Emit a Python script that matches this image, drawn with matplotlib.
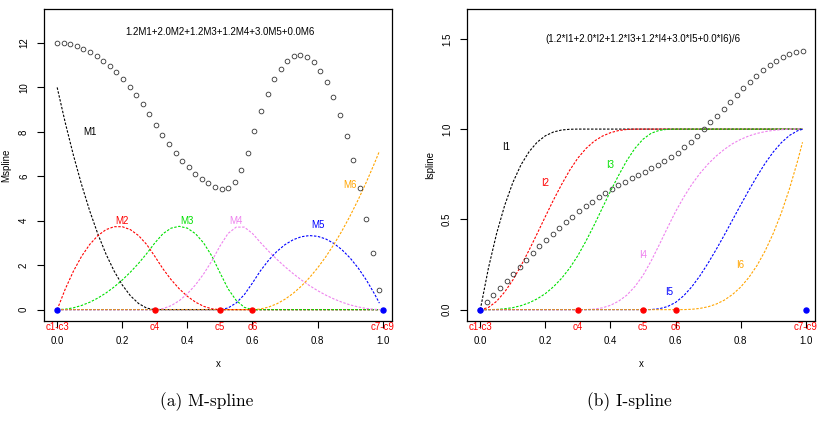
import numpy as np
import matplotlib
matplotlib.use('Agg')
import matplotlib.pyplot as plt
import matplotlib.transforms as mtransforms

plt.rcParams['font.family'] = ['Liberation Sans', 'DejaVu Sans']

# grid for the basis curves
xs = [0.0, 0.025, 0.05, 0.075, 0.1, 0.125, 0.15, 0.175, 0.2, 0.225, 0.25, 0.275,
      0.3, 0.325, 0.35, 0.375, 0.4, 0.425, 0.45, 0.475, 0.5, 0.525, 0.55, 0.575,
      0.6, 0.625, 0.65, 0.675, 0.7, 0.725, 0.75, 0.775, 0.8, 0.825, 0.85, 0.875,
      0.9, 0.925, 0.95, 0.975, 0.99]

# M-spline basis
m1 = [10.0, 8.403, 6.944, 5.625, 4.444, 3.403, 2.5, 1.736, 1.111, 0.625, 0.278, 0.069,
      0, 0, 0, 0, 0, 0, 0, 0, 0, 0, 0, 0, 0, 0, 0, 0, 0, 0, 0, 0, 0, 0, 0, 0, 0, 0, 0, 0, 0]
m2 = [0, 0.933, 1.733, 2.4, 2.933, 3.333, 3.6, 3.733, 3.733, 3.6, 3.333, 2.933,
      2.4, 1.838, 1.35, 0.938, 0.6, 0.338, 0.15, 0.038, 0, 0, 0, 0,
      0, 0, 0, 0, 0, 0, 0, 0, 0, 0, 0, 0, 0, 0, 0, 0, 0]
m3 = [0, 0.021, 0.083, 0.188, 0.333, 0.521, 0.75, 1.021, 1.333, 1.688, 2.083, 2.521,
      3.0, 3.417, 3.667, 3.75, 3.667, 3.417, 3.0, 2.417, 1.667, 0.938, 0.417, 0.104,
      0, 0, 0, 0, 0, 0, 0, 0, 0, 0, 0, 0, 0, 0, 0, 0, 0]
m4 = [0, 0, 0, 0, 0, 0, 0, 0, 0, 0, 0, 0,
      0, 0.045, 0.179, 0.402, 0.714, 1.116, 1.607, 2.188, 2.857, 3.429, 3.714, 3.714,
      3.429, 3.013, 2.625, 2.263, 1.929, 1.621, 1.339, 1.085, 0.857, 0.656, 0.482, 0.335,
      0.214, 0.121, 0.054, 0.013, 0.002]
m5 = [0, 0, 0, 0, 0, 0, 0, 0, 0, 0, 0, 0,
      0, 0, 0, 0, 0, 0, 0, 0, 0, 0.075, 0.3, 0.675,
      1.2, 1.758, 2.231, 2.620, 2.925, 3.145, 3.281, 3.333, 3.3, 3.183, 2.981, 2.695,
      2.325, 1.870, 1.331, 0.708, 0.293]
m6 = [0, 0, 0, 0, 0, 0, 0, 0, 0, 0, 0, 0,
      0, 0, 0, 0, 0, 0, 0, 0, 0, 0, 0, 0,
      0, 0.029, 0.117, 0.264, 0.469, 0.732, 1.055, 1.436, 1.875, 2.373, 2.930, 3.545,
      4.219, 4.951, 5.742, 6.592, 7.130]

# I-spline basis
i1 = [0, 0.230, 0.421, 0.578, 0.704, 0.802, 0.875, 0.928, 0.963, 0.984, 0.995, 0.999,
      1, 1, 1, 1, 1, 1, 1, 1, 1, 1, 1, 1, 1, 1, 1, 1, 1, 1, 1, 1, 1, 1, 1, 1, 1, 1, 1, 1, 1]
i2 = [0, 0.012, 0.046, 0.098, 0.164, 0.243, 0.33, 0.422, 0.516, 0.608, 0.694, 0.773,
      0.84, 0.893, 0.933, 0.961, 0.98, 0.992, 0.998, 1.0, 1, 1, 1, 1,
      1, 1, 1, 1, 1, 1, 1, 1, 1, 1, 1, 1, 1, 1, 1, 1, 1]
i3 = [0, 0.0002, 0.001, 0.005, 0.011, 0.022, 0.038, 0.060, 0.089, 0.127, 0.174, 0.231,
      0.3, 0.381, 0.469, 0.563, 0.656, 0.744, 0.825, 0.893, 0.944, 0.977, 0.993, 0.999,
      1, 1, 1, 1, 1, 1, 1, 1, 1, 1, 1, 1, 1, 1, 1, 1, 1]
i4 = [0, 0, 0, 0, 0, 0, 0, 0, 0, 0, 0, 0,
      0, 0.0004, 0.003, 0.010, 0.024, 0.047, 0.080, 0.128, 0.190, 0.270, 0.360, 0.453,
      0.543, 0.623, 0.694, 0.755, 0.807, 0.851, 0.888, 0.919, 0.943, 0.962, 0.976, 0.986,
      0.993, 0.997, 0.999, 1.0, 1.0]
i5 = [0, 0, 0, 0, 0, 0, 0, 0, 0, 0, 0, 0,
      0, 0, 0, 0, 0, 0, 0, 0, 0, 0.0006, 0.005, 0.017,
      0.04, 0.077, 0.127, 0.188, 0.258, 0.334, 0.414, 0.497, 0.58, 0.661, 0.738, 0.810,
      0.873, 0.925, 0.965, 0.991, 0.999]
i6 = [0, 0, 0, 0, 0, 0, 0, 0, 0, 0, 0, 0,
      0, 0, 0, 0, 0, 0, 0, 0, 0, 0, 0, 0,
      0, 0.0002, 0.002, 0.007, 0.016, 0.031, 0.053, 0.084, 0.125, 0.178, 0.244, 0.325,
      0.422, 0.536, 0.670, 0.824, 0.927]

# weighted sums, drawn as circles
xc = np.linspace(0, 0.99, 50)
msum = [12.0, 11.984, 11.935, 11.853, 11.739, 11.592, 11.412, 11.2, 10.955, 10.677,
        10.367, 10.024, 9.649, 9.241, 8.8, 8.327, 7.866, 7.443, 7.057, 6.709,
        6.397, 6.123, 5.887, 5.687, 5.525, 5.407, 5.467, 5.761, 6.288, 7.047,
        8.023, 8.946, 9.725, 10.359, 10.85, 11.195, 11.397, 11.454, 11.367, 11.136,
        10.76, 10.239, 9.575, 8.766, 7.813, 6.716, 5.474, 4.088, 2.557, 0.882]
isum = [0, 0.0404, 0.0807, 0.1207, 0.1605, 0.1998, 0.2385, 0.2766, 0.3139, 0.3503,
        0.3858, 0.4201, 0.4532, 0.4851, 0.5154, 0.5443, 0.5715, 0.5973, 0.6217, 0.6449,
        0.6669, 0.688, 0.7082, 0.7277, 0.7465, 0.7649, 0.7832, 0.802, 0.8222, 0.8446,
        0.87, 0.8986, 0.93, 0.9639, 0.9995, 1.0367, 1.0748, 1.1133, 1.1518, 1.1897,
        1.2265, 1.2619, 1.2957, 1.3264, 1.3542, 1.3787, 1.3993, 1.4154, 1.4266, 1.4326]

knots_end = [0.0, 1.0]
knots_in = [0.3, 0.5, 0.6]
knot_labels = ['c1-c3', 'c4', 'c5', 'c6', 'c7-c9']
knot_pos = [0.0, 0.3, 0.5, 0.6, 1.0]

colors = ['black', 'red', '#00e000', 'violet', 'blue', 'orange']
dash = (0, (2.2, 1.4))

fig = plt.figure(figsize=(8.2, 4.26), dpi=100)
ax1 = fig.add_axes([0.054, 0.246, 0.4244, 0.7324])
ax2 = fig.add_axes([0.570, 0.246, 0.4244, 0.7324])


def style(ax, yticks, ylab):
    ax.set_xlim(-0.0396, 1.0296)
    ax.set_xticks([0, 0.2, 0.4, 0.6, 0.8, 1.0])
    ax.set_xticklabels(['0.0', '0.2', '0.4', '0.6', '0.8', '1.0'])
    ax.set_yticks(yticks)
    ax.tick_params(direction='out', length=5, width=0.8, labelsize=7, pad=6)
    for lab in ax.get_yticklabels():
        lab.set_rotation(90)
        lab.set_va('center')
    for s in ax.spines.values():
        s.set_linewidth(0.9)
    ax.text(-0.108, 0.5, ylab, rotation=90, transform=ax.transAxes,
            ha='center', va='center', fontsize=7)
    ax.text(0.5, -0.137, 'x', transform=ax.transAxes, ha='center', va='center', fontsize=7)
    tr = mtransforms.blended_transform_factory(ax.transData, ax.transAxes)
    for p, t in zip(knot_pos, knot_labels):
        ax.text(p, -0.02, t, transform=tr, ha='center', va='center',
                fontsize=7, color='red', clip_on=False)


# panel a
for ys, c in zip([m1, m2, m3, m4, m5, m6], colors):
    ax1.plot(xs, ys, color=c, lw=0.8, linestyle=dash)
ax1.plot(xc, msum, 'o', mfc='none', mec='#333333', ms=3.4, mew=0.6)
ax1.plot(knots_in, [0] * 3, 'o', color='red', ms=3.6)
ax1.plot(knots_end, [0] * 2, 'o', color='blue', ms=3.6)
ax1.set_ylim(-0.52, 13.52)
style(ax1, [0, 2, 4, 6, 8, 10, 12], 'Mspline')
ax1.text(0.5, 12.5, '1.2M1+2.0M2+1.2M3+1.2M4+3.0M5+0.0M6', ha='center', va='center', fontsize=7)
mlab_x = [0.1, 0.2, 0.4, 0.55, 0.8, 0.9]
mlab_y = [8.0, 4.0, 4.0, 4.0, 3.8, 5.6]
for k, c in enumerate(colors):
    ax1.text(mlab_x[k], mlab_y[k], 'M%d' % (k + 1), color=c, ha='center', va='center', fontsize=7)

# panel b
for ys, c in zip([i1, i2, i3, i4, i5, i6], colors):
    ax2.plot(xs, ys, color=c, lw=0.8, linestyle=dash)
ax2.plot(xc, isum, 'o', mfc='none', mec='#333333', ms=3.4, mew=0.6)
ax2.plot(knots_in, [0] * 3, 'o', color='red', ms=3.6)
ax2.plot(knots_end, [0] * 2, 'o', color='blue', ms=3.6)
ax2.set_ylim(-0.064, 1.664)
style(ax2, [0, 0.5, 1.0, 1.5], 'Ispline')
ax2.set_yticklabels(['0.0', '0.5', '1.0', '1.5'], rotation=90, va='center')
ax2.text(0.5, 1.5, '(1.2*I1+2.0*I2+1.2*I3+1.2*I4+3.0*I5+0.0*I6)/6', ha='center', va='center', fontsize=7)
ilab_x = [0.08, 0.2, 0.4, 0.5, 0.58, 0.8]
ilab_y = [0.9, 0.7, 0.8, 0.3, 0.1, 0.25]
for k, c in enumerate(colors):
    ax2.text(ilab_x[k], ilab_y[k], 'I%d' % (k + 1), color=c, ha='center', va='center', fontsize=7)

fig.text(0.2516, 0.0575, '(a) M-spline', ha='center', va='center', fontsize=12.5, family='cmr10')
fig.text(0.768, 0.0575, '(b) I-spline', ha='center', va='center', fontsize=12.5, family='cmr10')

fig.savefig('out.png', dpi=100)
